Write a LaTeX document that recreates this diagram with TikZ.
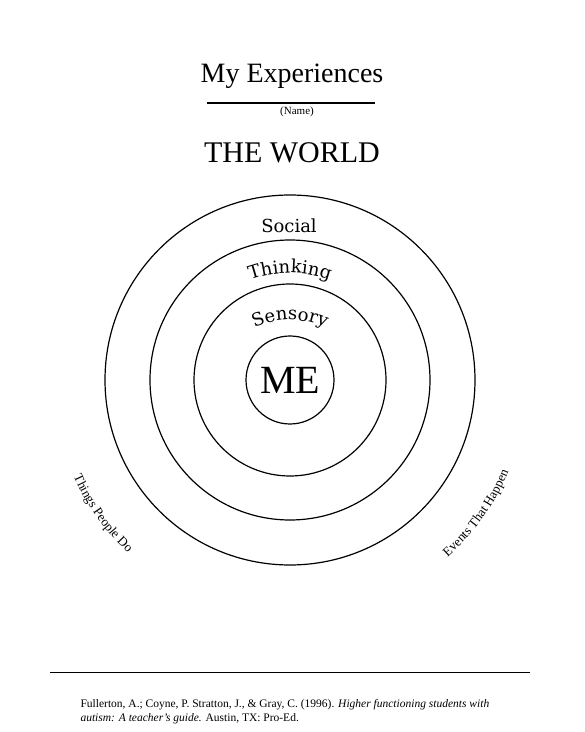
\documentclass[tikz,border=0pt]{standalone}
\usepackage{fontspec}
\setmainfont{Liberation Serif}
\newfontfamily\ringfont{DejaVu Serif}
\usetikzlibrary{decorations.text}

\begin{document}
\begin{tikzpicture}[x=1pt, y=1pt,
  ring/.style={line width=1.2pt}]

  \useasboundingbox (0,0) rectangle (585,732);
  \coordinate (c) at (290,352);

  % heading
  \node[anchor=base] (title) at (292,649) {\fontsize{28}{30}\selectfont My Experiences};
  \draw[line width=1.2pt] (207,629) -- (375,629);
  \node[anchor=base] (name) at (297,617) {\fontsize{11}{12}\selectfont (Name)};
  \node[anchor=base] (world) at (292,569) {\fontsize{30}{32}\selectfont THE WORLD};

  % rings
  \draw[ring] (c) circle (185);
  \draw[ring] (c) circle (140);
  \draw[ring] (c) circle (96);
  \node[ring, circle, draw, minimum size=88, inner sep=0] (me) at (c) {\fontsize{40}{40}\selectfont ME};

  \node[anchor=base] (social) at (289,499) {\ringfont\fontsize{18}{20}\selectfont Social};
  \path[decorate, decoration={text along path, text align=center,
    text={|\ringfont\fontsize{18}{20}\selectfont|Thinking}}]
    ([shift={(115:118)}]290,341) arc[start angle=115, end angle=65, radius=118];
  \path[decorate, decoration={text along path, text align=center,
    text={|\ringfont\fontsize{18}{20}\selectfont|Sensory}}]
    ([shift={(120:85)}]290,327) arc[start angle=120, end angle=60, radius=85];

  % outside
  \path[decorate, decoration={text along path, text align=center,
    text={|\fontsize{13}{14}\selectfont|Things People Do}}]
    ([shift={(185:237)}]c) arc[start angle=185, end angle=246, radius=237];
  \path[decorate, decoration={text along path, text align=center,
    text={|\fontsize{13}{14}\selectfont|Events That Happen}}]
    ([shift={(294:237)}]c) arc[start angle=294, end angle=355, radius=237];

  % reference
  \draw[line width=1pt] (50,59) -- (530,59);
  \node[anchor=base west] (cite1) at (77,24) {\fontsize{11.5}{14}\selectfont Fullerton, A.; Coyne, P. Stratton, J., \& Gray, C. (1996). \textit{Higher functioning students with}};
  \node[anchor=base west] (cite2) at (77,10) {\fontsize{11.5}{14}\selectfont \textit{autism: A teacher's guide.} Austin, TX: Pro-Ed.};

\end{tikzpicture}
\end{document}
